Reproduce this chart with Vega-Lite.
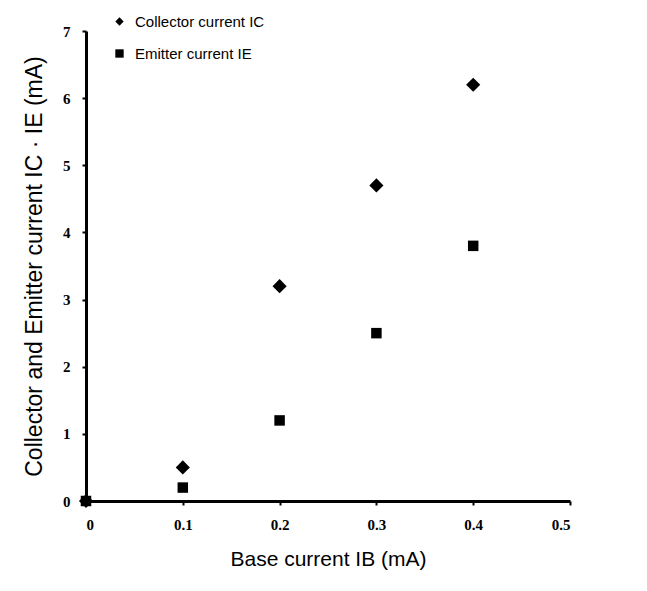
{
  "$schema": "https://vega.github.io/schema/vega-lite/v6.json",
  "autosize": "none",
  "width": 484,
  "height": 470,
  "padding": {"left": 86, "top": 31, "right": 77, "bottom": 90},
  "background": "white",
  "config": {
    "view": {"stroke": null},
    "axis": {
      "grid": false,
      "domainColor": "black",
      "domainWidth": 3,
      "tickColor": "black",
      "tickWidth": 2,
      "tickSize": 4,
      "labelFont": "Liberation Serif",
      "labelFontWeight": "bold",
      "labelFontSize": 15,
      "labelColor": "black",
      "titleFont": "Liberation Sans",
      "titleFontWeight": "normal",
      "titleFontSize": 21,
      "titleColor": "black"
    }
  },
  "data": {
    "values": [
      {"ib": 0, "i": 0, "series": "Collector current IC"},
      {"ib": 0.1, "i": 0.5, "series": "Collector current IC"},
      {"ib": 0.2, "i": 3.2, "series": "Collector current IC"},
      {"ib": 0.3, "i": 4.7, "series": "Collector current IC"},
      {"ib": 0.4, "i": 6.2, "series": "Collector current IC"},
      {"ib": 0, "i": 0, "series": "Emitter current IE"},
      {"ib": 0.1, "i": 0.2, "series": "Emitter current IE"},
      {"ib": 0.2, "i": 1.2, "series": "Emitter current IE"},
      {"ib": 0.3, "i": 2.5, "series": "Emitter current IE"},
      {"ib": 0.4, "i": 3.8, "series": "Emitter current IE"}
    ]
  },
  "encoding": {
    "x": {
      "field": "ib",
      "type": "quantitative",
      "scale": {"domain": [0, 0.5], "nice": false},
      "axis": {
        "title": "Base current IB (mA)",
        "values": [0, 0.1, 0.2, 0.3, 0.4, 0.5],
        "format": "~g",
        "labelPadding": 12,
        "titlePadding": 16
      }
    },
    "y": {
      "field": "i",
      "type": "quantitative",
      "scale": {"domain": [0, 7], "nice": false},
      "axis": {
        "title": "Collector and Emitter current IC · IE (mA)",
        "values": [0, 1, 2, 3, 4, 5, 6, 7],
        "labelPadding": 12,
        "titlePadding": 16,
        "titleFontSize": 23
      }
    },
    "shape": {
      "field": "series",
      "type": "nominal",
      "scale": {"domain": ["Collector current IC", "Emitter current IE"], "range": ["diamond", "square"]},
      "legend": {
        "title": null,
        "orient": "none",
        "legendX": 26,
        "legendY": -17,
        "padding": 0,
        "labelFont": "Liberation Sans",
        "labelFontSize": 15,
        "labelColor": "black",
        "symbolFillColor": "black",
        "symbolStrokeColor": "black",
        "symbolSize": 70,
        "rowPadding": 16,
        "labelOffset": 8
      }
    }
  },
  "layer": [
    {
      "transform": [{"filter": "datum.series == 'Collector current IC'"}],
      "mark": {"type": "point", "filled": true, "opacity": 1, "color": "black", "size": 200}
    },
    {
      "transform": [{"filter": "datum.series == 'Emitter current IE'"}],
      "mark": {"type": "point", "filled": true, "opacity": 1, "color": "black", "size": 110}
    }
  ]
}
